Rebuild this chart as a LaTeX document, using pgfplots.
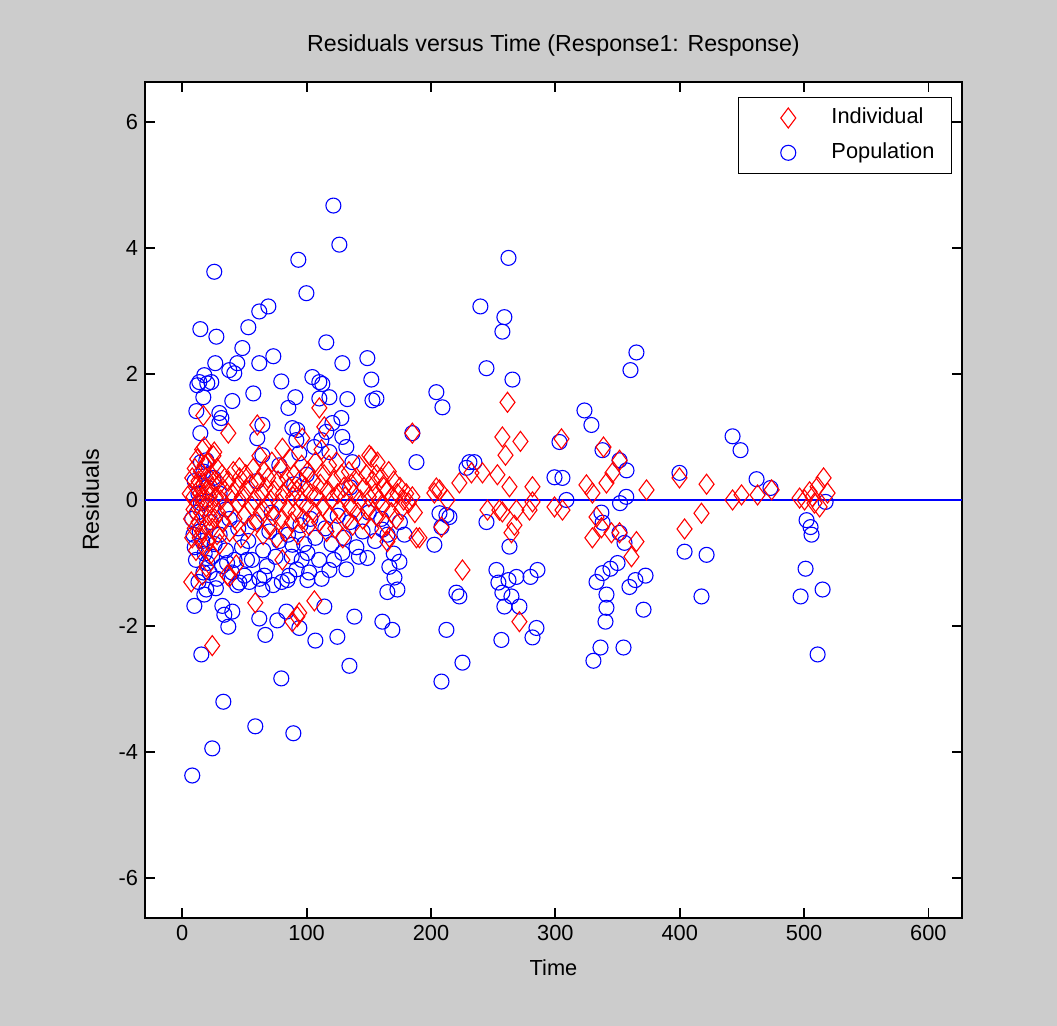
\documentclass[border=0pt]{standalone}
\usepackage{fontspec}
\setmainfont{Liberation Sans}
\usepackage{pgfplots}
\pgfplotsset{compat=1.18}
\definecolor{figgray}{RGB}{204,204,204}
\newcommand\fs{\fontsize{10.9pt}{13pt}\selectfont}
\newcommand\fl{\fontsize{11.6pt}{14pt}\selectfont}
\begin{document}
\begin{tikzpicture}
\fill[figgray] (-72.5pt,-54pt) rectangle (456pt,459pt);
\begin{axis}[
  at={(0pt,0pt)}, anchor=south west, scale only axis,
  width=408.5pt, height=418pt,
  xmin=-30, xmax=627, ymin=-6.63, ymax=6.63,
  xtick={0,100,...,600}, ytick={-6,-4,...,6},
  tick align=inside, tick pos=both, major tick length=5pt,
  axis line style={line width=0.9pt},
  every tick/.style={line width=0.9pt, black},
  axis background/.style={fill=white},
  tick label style={font=\fs},
  /pgf/number format/assume math mode=true,
  title={Residuals versus Time (Response1: Response)},
  title style={font=\fl, at={(axis description cs:0.5,1.0287)}, anchor=center, yshift=0pt},
  xlabel={Time},
  xlabel style={font=\fs, at={(axis description cs:0.5,-0.0598)}, anchor=center},
  ylabel={Residuals},
  ylabel style={font=\fl, at={(axis description cs:-0.0665,0.5)}, anchor=center},
  legend style={font=\fs, at={(axis description cs:1,1)}, anchor=north east,
    xshift=-4.85pt, yshift=-7.5pt, draw=black, line width=0.6pt,
    inner xsep=5pt, inner ysep=1.5pt, row sep=0pt,
    nodes={inner sep=3.6pt, text height=8pt, text depth=2.2pt}},
  legend cell align=left,
  legend image code/.code={\path[draw=none,fill=none] (0pt,-4pt) rectangle (38pt,4pt);
    \draw[#1] plot coordinates {(20pt,0pt)};},
]
\addplot[only marks, blue, mark=o, mark size=3.75pt, mark options={line width=0.55pt}, forget plot] coordinates {
(121.5,4.67)(126.3,4.05)(25.7,3.62)(93.3,3.81)(262.3,3.84)(99.8,3.28)(69.2,3.07)(61.9,2.99)(53.1,2.74)(14.5,2.71)(27.4,2.59)(239.7,3.07)(259,2.9)(257.4,2.67)(365.2,2.34)(360.4,2.06)(115.8,2.5)(73.2,2.28)(48.3,2.41)(61.9,2.17)(44.2,2.17)(37.8,2.06)(41.8,2.01)(26.5,2.17)(17.7,1.98)(13.7,1.87)(20.1,1.85)(23.3,1.87)(12.1,1.82)(16.9,1.63)(148.8,2.25)(128.7,2.17)(152,1.91)(152.9,1.58)(156.1,1.61)(132.7,1.6)(79.6,1.88)(104.6,1.95)(110.2,1.87)(112.6,1.84)(85.3,1.46)(90.9,1.63)(110.2,1.61)(118.3,1.63)(57.1,1.69)(40.2,1.57)(11.3,1.41)(29.8,1.38)(31.4,1.3)(29.8,1.22)(14.5,1.06)(64.4,1.19)(60.3,0.98)(88.5,1.14)(92.5,1.11)(91.7,0.95)(115.8,1.08)(120.7,1.22)(127.9,1.3)(128.7,1.0)(131.9,0.84)(136.8,0.6)(204.3,1.71)(209.2,1.47)(188.3,0.6)(185,1.06)(111.8,0.95)(106.2,0.84)(118.3,0.76)(94.1,0.74)(78,0.55)(64.4,0.71)(19.3,0.63)(244.6,2.09)(265.5,1.91)(323.4,1.42)(329,1.19)(303.3,0.92)(337.9,0.79)(351.6,0.63)(357.2,0.47)(299.3,0.36)(305.7,0.35)(308.9,0.0)(230.9,0.6)(234.9,0.6)(228.5,0.51)(202.7,-0.71)(244.6,-0.35)(263.1,-0.74)(206.8,-0.21)(208.4,-0.43)(212.4,-0.24)(220.4,-1.47)(222.8,-1.53)(212.4,-2.06)(225.3,-2.58)(208.4,-2.88)(351.6,-0.52)(355.6,-0.68)(403.9,-0.82)(421.6,-0.87)(417.5,-1.53)(399.8,0.43)(442.5,1.01)(448.9,0.79)(461.8,0.33)(473,0.19)(517.3,-0.03)(502,-0.32)(505.2,-0.43)(506,-0.55)(501.2,-1.09)(514.9,-1.42)(497.2,-1.53)(510.9,-2.45)(333.1,-1.3)(337.9,-1.16)(344.3,-1.09)(350,-1.0)(341.1,-1.5)(341.1,-1.71)(340.3,-1.93)(336.3,-2.34)(330.6,-2.55)(354.8,-2.34)(370.9,-1.74)(364.4,-1.27)(372.5,-1.2)(359.6,-1.38)(252.6,-1.11)(254.2,-1.31)(262.3,-1.27)(268.7,-1.22)(257.4,-1.47)(259,-1.69)(264.7,-1.53)(271.1,-1.69)(285.6,-1.11)(280,-1.22)(284.8,-2.03)(281.6,-2.18)(256.6,-2.22)(8,-4.37)(24.1,-3.94)(33,-3.2)(58.7,-3.59)(89.3,-3.7)(79.6,-2.83)(134.4,-2.63)(15.3,-2.45)(37,-2.01)(66.8,-2.14)(107,-2.23)(124.7,-2.17)(138.4,-1.85)(160.9,-1.93)(168.9,-2.06)(9.7,-1.68)(32.2,-1.68)(40.2,-1.77)(33.8,-1.82)(61.9,-1.88)(76.4,-1.91)(83.7,-1.77)(94.1,-2.03)(114.2,-1.69)(17.7,-1.5)(19.3,-1.42)(118.3,-1.11)(128.7,-0.84)(148.8,-0.92)(164.9,-1.46)(173,-1.42)(170.6,-1.23)(166.5,-1.06)(174.6,-0.98)(178.6,-0.55)(160.9,-0.47)(84.5,-1.27)(100.6,-1.27)(64.4,-1.42)(45.9,-1.31)(53.9,-1.3)(100.6,-0.84)(88.5,-0.71)
(12,-0.2)(14,-0.5)(16,-0.65)(18,-0.85)(20,-1.0)(22,-1.15)(24,-0.9)(26,-0.7)(28,-1.25)(30,-0.55)(32,-1.05)(35,-0.8)(38,-0.3)(40,-1.15)(42,-0.95)(45,-0.45)(48,-0.75)(50,-1.2)(53,-0.65)(56,-0.95)(58,-0.35)(62,-1.25)(65,-0.8)(68,-1.05)(70,-0.5)(72,-0.2)(75,-0.9)(78,-0.65)(80,-1.3)(85,-0.55)(88,-0.9)(92,-1.1)(95,-0.4)(98,-0.7)(103,-0.3)(107,-0.6)(110,-0.95)(115,-0.45)(120,-0.7)(125,-0.25)(130,-0.6)(135,-0.35)(140,-0.75)(145,-0.5)(150,-0.2)(155,-0.65)(160,-0.3)(165,-0.55)(170,-0.85)(175,-0.35)(10,0.3)(13,0.1)(15,-0.05)(17,0.45)(20,0.2)(25,0.35)(30,0.1)(35,-0.15)(60,0.3)(90,0.25)(100,0.4)(135,0.2)(15,0.6)(11,-0.95)(13,-1.3)(17,-1.15)(23,-0.35)(27,-1.4)(36,-1.0)(44,-1.35)(52,-0.95)(66,-1.2)(73,-1.35)(86,-1.2)(96,-0.95)(102,-1.15)(112,-1.25)(122,-0.95)(132,-1.1)(142,-0.9)(357,0.05)(352,-0.05)(337,-0.2)(338,-0.36)(214.8,-0.27)(8,-0.3)(9,-0.55)(10,-0.75)
};
\addplot[only marks, red, mark=diamond, mark size=5pt, mark options={line width=0.55pt}] coordinates {
(261.5,1.55)(257.4,1.0)(271.9,0.93)(259.9,0.71)(304.9,0.97)(338.7,0.84)(351.6,0.63)(345.9,0.43)(253.4,0.4)(241.4,0.43)(232.5,0.43)(222.8,0.27)(206.8,0.16)(202.7,0.11)(213.2,0.0)(281.6,0.21)(263.1,0.21)(325,0.24)(329.8,0.11)(341.1,0.27)(373.3,0.16)(421.6,0.25)(399.8,0.35)(417.5,-0.21)(403.9,-0.46)(225.3,-1.11)(271.1,-1.93)(361.2,-0.9)(365.2,-0.66)(329.8,-0.6)(337.1,-0.44)(333.1,-0.27)(345.1,-0.52)(351.6,-0.52)(267.1,-0.4)(264.7,-0.52)(255,-0.16)(245.4,-0.16)(257.4,-0.19)(268.7,-0.16)(279.2,-0.16)(281.6,-0.03)(299.3,-0.11)(305.7,-0.16)(208.4,-0.43)(190.7,-0.6)(442.5,0.0)(449.7,0.08)(462.6,0.08)(473.9,0.16)(496.4,0.03)(500.4,0)(504.4,0.13)(508.4,-0.05)(512.5,-0.11)(515.7,0.35)(518.9,0.11)(510.9,0.21)(506.8,0.05)
(110.2,1.46)(114.2,1.16)(60.3,1.19)(37,1.06)(16.9,1.34)(17.7,0.84)(25.7,0.76)(80.5,0.82)(96.5,0.98)(152,0.68)(185,1.06)(156.1,0.4)(45.9,0.51)(204.3,0.19)(150.4,0.71)
(24.1,-2.31)(92.5,-1.85)(88.5,-1.93)(58.7,-1.63)(106.2,-1.6)(7.2,-1.3)(16.1,-1.19)(36.2,-1.19)(43.4,-1.03)(80.5,-0.95)(188.3,-0.6)(164.9,-0.66)(37.8,-1.22)(94,-1.79)(166.5,-0.59)(19.3,-1.06)
(6,0.1)(7,-0.3)(8,0.35)(8,-0.6)(9,0.05)(9,-0.15)(10,0.5)(10,-0.45)(11,0.2)(11,-0.8)(12,-0.05)(12,0.65)(13,0.3)(13,-0.35)(14,-0.6)(14,0.1)(15,0.45)(15,-0.2)(16,0.8)(16,-0.5)(17,0.0)(17,0.25)(18,-0.75)(18,0.55)(19,-0.1)(19,0.35)(20,-0.4)(20,0.15)(21,0.6)(21,-0.65)(22,0.05)(22,-0.25)(23,0.4)(23,-0.85)(24,0.2)(24,-0.45)(25,0.7)(25,-0.1)(26,-0.3)(26,0.3)(27,0.05)(28,-0.55)(28,0.5)(29,-0.2)(30,0.25)(30,-0.7)(31,0.0)(32,0.4)(33,-0.35)(34,0.15)
(36,-0.15)(37,0.3)(38,-0.5)(40,0.1)(41,0.45)(42,-0.3)(44,0.2)(45,-0.05)(46,0.35)(47,-0.6)(48,0.05)(50,-0.25)(51,0.4)(52,0.15)(53,-0.45)(55,0.25)(56,-0.1)(57,0.5)(58,0.0)(60,-0.35)(61,0.3)(62,0.7)(63,-0.2)(64,0.1)(65,-0.55)(66,0.45)(67,0.2)(68,-0.1)(69,0.35)(70,-0.4)(71,0.0)(72,0.6)(73,-0.25)(74,0.15)(76,-0.6)(77,0.3)(78,-0.05)(79,0.5)(80,-0.3)(81,0.1)(83,-0.5)(84,0.35)(85,-0.15)(86,0.2)(87,0.65)(88,-0.35)(89,0.05)(90,0.4)(91,-0.2)(92,0.15)(93,-0.55)(94,0.3)(95,0.0)(96,0.55)(97,-0.3)(99,0.2)(100,-0.1)(101,0.45)(102,-0.4)(103,0.1)(105,0.3)(106,-0.2)(107,0.6)(108,0.05)(110,-0.35)(111,0.25)(112,0.8)(113,-0.1)(114,0.4)(116,-0.5)(117,0.15)(118,0.55)(119,-0.25)(120,0.0)(122,0.3)(123,-0.45)(124,0.6)(125,0.1)(126,-0.15)(128,0.4)(129,-0.6)(130,0.2)(131,0.05)(132,-0.3)(134,0.45)(135,-0.1)(136,0.25)(137,-0.4)(138,0.1)(140,0.35)(141,-0.2)(142,0.55)(143,0.0)(145,-0.3)(146,0.2)(148,0.4)(149,-0.15)(150,0.05)(152,-0.45)(153,0.3)(155,0.1)(156,-0.25)(157,0.6)(158,0.0)(160,0.35)(161,-0.1)(162,0.2)(164,-0.4)(165,0.15)(166,0.45)(168,-0.2)(169,0.05)(170,0.3)(172,-0.3)(173,0.1)(175,0.2)(176,-0.15)(178,0.0)(180,0.1)(182,-0.05)(185,0.05)(187,-0.2)
};
\addlegendentry{Individual}
\addlegendimage{only marks, blue, mark=o, mark size=3.75pt, mark options={line width=0.55pt}}
\addlegendentry{Population}
\addplot[blue, line width=0.6pt, forget plot] coordinates {(-30,0) (627,0)};
\end{axis}
\end{tikzpicture}
\end{document}
